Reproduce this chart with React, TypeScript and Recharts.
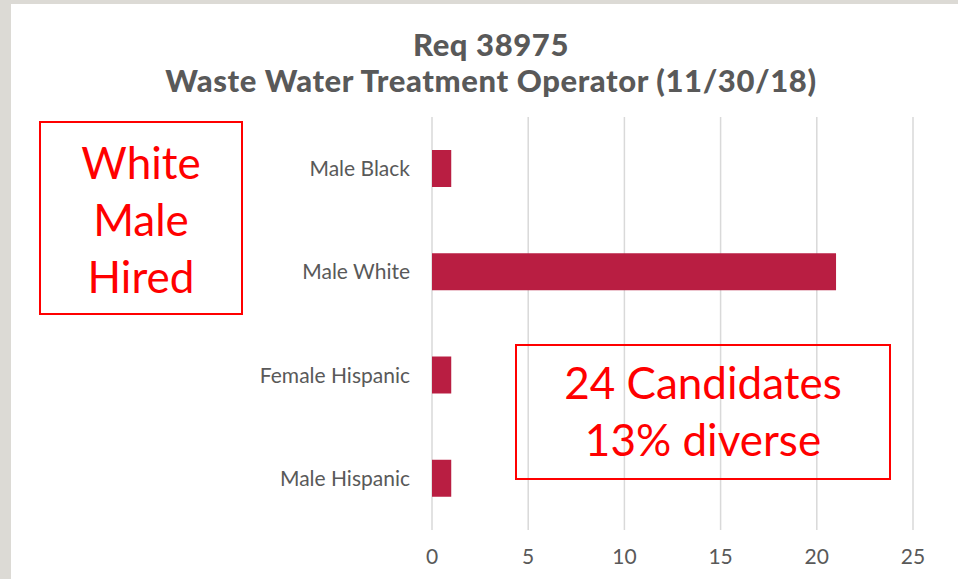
import { BarChart, Bar, XAxis, YAxis, CartesianGrid } from "recharts";

const categories = ["Male Black", "Male White", "Female Hispanic", "Male Hispanic"];
const counts = [1, 21, 1, 1];
const xTicks = [0, 5, 10, 15, 20, 25];

const data = categories.map((name, i) => ({ name, value: counts[i] }));

const font = "Lato, 'Open Sans', sans-serif";
const grey = "#595959";
const red = "#ff0000";

export default function App() {
    return (
        <div
            style={{
                position: "absolute",
                left: 0,
                top: 0,
                width: 958,
                height: 579,
                background: "#dcdad5",
                overflow: "hidden",
                fontFamily: font,
            }}
        >
            <div
                style={{
                    position: "absolute",
                    left: 11,
                    top: 4,
                    width: 947,
                    height: 575,
                    background: "#fff",
                }}
            />
            <div
                style={{
                    position: "absolute",
                    left: 0,
                    top: 26,
                    width: 982,
                    textAlign: "center",
                    color: grey,
                    fontWeight: 900,
                    fontSize: 31,
                    letterSpacing: 0.6,
                    lineHeight: "36px",
                }}
            >
                Req 38975
                <br />
                Waste Water Treatment Operator (11/30/18)
            </div>
            <div style={{ position: "absolute", left: 0, top: 0 }}>
                <BarChart
                    width={958}
                    height={579}
                    data={data}
                    layout="vertical"
                    margin={{ top: 117, right: 45, left: 0, bottom: 0 }}
                >
                    <CartesianGrid horizontal={false} stroke="#d9d9d9" strokeWidth={1.5} />
                    <XAxis
                        type="number"
                        domain={[0, 25]}
                        ticks={xTicks}
                        axisLine={false}
                        tickLine={false}
                        height={49}
                        tickSize={0}
                        tickMargin={19}
                        tick={{ fill: grey, fontSize: 21, fontFamily: font }}
                    />
                    <YAxis
                        type="category"
                        dataKey="name"
                        width={432}
                        axisLine={false}
                        tickLine={false}
                        tickSize={0}
                        tickMargin={22}
                        tick={{ fill: grey, fontSize: 21, fontFamily: font }}
                    />
                    <Bar dataKey="value" fill="#b91e42" barSize={37} isAnimationActive={false} />
                </BarChart>
            </div>
            <div
                style={{
                    position: "absolute",
                    left: 39,
                    top: 121,
                    width: 204,
                    height: 194,
                    boxSizing: "border-box",
                    border: `2px solid ${red}`,
                    color: red,
                    fontSize: 44,
                    lineHeight: "57px",
                    textAlign: "center",
                    paddingTop: 11,
                }}
            >
                White
                <br />
                Male
                <br />
                Hired
            </div>
            <div
                style={{
                    position: "absolute",
                    left: 515,
                    top: 344,
                    width: 376,
                    height: 136,
                    boxSizing: "border-box",
                    border: `2px solid ${red}`,
                    color: red,
                    fontSize: 44,
                    lineHeight: "57px",
                    textAlign: "center",
                    paddingTop: 8,
                }}
            >
                24 Candidates
                <br />
                13% diverse
            </div>
        </div>
    );
}
